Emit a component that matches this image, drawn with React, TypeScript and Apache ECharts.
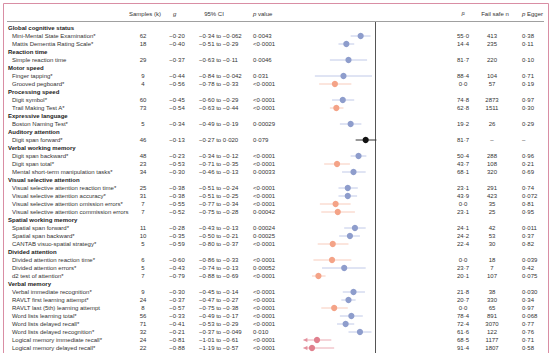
import React, { useEffect, useRef } from "react";
import * as echarts from "echarts";

const rowLabels: string[] = [
  "Global cognitive status",
  "Mini-Mental State Examination*",
  "Mattis Dementia Rating Scale*",
  "Reaction time",
  "Simple reaction time",
  "Motor speed",
  "Finger tapping*",
  "Grooved pegboard*",
  "Processing speed",
  "Digit symbol*",
  "Trail Making Test A*",
  "Expressive language",
  "Boston Naming Test*",
  "Auditory attention",
  "Digit span forward*",
  "Verbal working memory",
  "Digit span backward*",
  "Digit span total*",
  "Mental short-term manipulation tasks*",
  "Visual selective attention",
  "Visual selective attention reaction time*",
  "Visual selective attention accuracy*",
  "Visual selective attention omission errors*",
  "Visual selective attention commission errors",
  "Spatial working memory",
  "Spatial span forward*",
  "Spatial span backward*",
  "CANTAB visuo-spatial strategy*",
  "Divided attention",
  "Divided attention reaction time*",
  "Divided attention errors*",
  "d2 test of attention*",
  "Verbal memory",
  "Verbal immediate recognition*",
  "RAVLT first learning attempt*",
  "RAVLT last (5th) learning attempt",
  "Word lists learning total*",
  "Word lists delayed recall*",
  "Word lists delayed recognition*",
  "Logical memory immediate recall*",
  "Logical memory delayed recall*",
];

const N = null;
const samples: (number | null)[] = [N, 62, 18, N, 29, N, 9, 4, N, 60, 73, N, 5, N, 46, N, 48, 23, 34, N, 25, 31, 7, 7, N, 11, 10, 5, N, 6, 5, 7, N, 9, 24, 8, 56, 71, 32, 24, 22];
const gValues: (string | null)[] = [N, "-0.20", "-0.40", N, "-0.37", N, "-0.44", "-0.56", N, "-0.45", "-0.54", N, "-0.34", N, "-0.13", N, "-0.23", "-0.53", "-0.30", N, "-0.38", "-0.38", "-0.55", "-0.52", N, "-0.28", "-0.35", "-0.59", N, "-0.60", "-0.43", "-0.79", N, "-0.30", "-0.37", "-0.57", "-0.33", "-0.41", "-0.21", "-0.81", "-0.88"];
const ciLow: (string | null)[] = [N, "-0.34", "-0.51", N, "-0.63", N, "-0.84", "-0.78", N, "-0.60", "-0.63", N, "-0.49", N, "-0.27", N, "-0.34", "-0.71", "-0.46", N, "-0.51", "-0.51", "-0.77", "-0.75", N, "-0.43", "-0.50", "-0.80", N, "-0.86", "-0.74", "-0.88", N, "-0.45", "-0.47", "-0.75", "-0.49", "-0.53", "-0.37", "-1.01", "-1.19"];
const ciHigh: (string | null)[] = [N, "-0.062", "-0.29", N, "-0.11", N, "-0.042", "-0.33", N, "-0.29", "-0.44", N, "-0.19", N, "0.020", N, "-0.12", "-0.35", "-0.13", N, "-0.24", "-0.25", "-0.34", "-0.28", N, "-0.13", "-0.21", "-0.37", N, "-0.33", "-0.13", "-0.69", N, "-0.14", "-0.27", "-0.38", "-0.17", "-0.29", "-0.049", "-0.61", "-0.57"];
const pValues: (string | null)[] = [N, "0.0043", "<0.0001", N, "0.0046", N, "0.031", "<0.0001", N, "<0.0001", "<0.0001", N, "0.00029", N, "0.079", N, "<0.0001", "<0.0001", "0.00033", N, "<0.0001", "<0.0001", "<0.0001", "0.00042", N, "0.00024", "0.00025", "<0.0001", N, "<0.0001", "0.00052", "<0.0001", N, "<0.0001", "<0.0001", "<0.0001", "<0.0001", "<0.0001", "0.010", "<0.0001", "<0.0001"];
const i2Values: (string | null)[] = [N, "55.0", "14.4", N, "81.7", N, "88.4", "0.0", N, "74.8", "62.8", N, "19.2", N, "81.7", N, "50.4", "43.7", "68.1", N, "23.1", "43.9", "0.0", "23.1", N, "24.1", "24.2", "22.4", N, "0.0", "23.7", "20.1", N, "21.8", "20.7", "0.0", "78.4", "72.4", "61.6", "68.5", "91.4"];
const failSafe: (string | null)[] = [N, "413", "235", N, "220", N, "104", "57", N, "2873", "1511", N, "26", N, "–", N, "288", "108", "320", N, "291", "423", "35", "25", N, "42", "53", "30", N, "18", "7", "107", N, "38", "330", "65", "891", "3070", "122", "1177", "1807"];
const pEgger: (string | null)[] = [N, "0.38", "0.11", N, "0.10", N, "0.71", "0.19", N, "0.97", "0.30", N, "0.29", N, "–", N, "0.96", "0.21", "0.69", N, "0.74", "0.072", "0.81", "0.95", N, "0.011", "0.37", "0.82", N, "0.039", "0.42", "0.075", N, "0.030", "0.34", "0.97", "0.068", "0.77", "0.76", "0.71", "0.58"];

const headerLabels = ["Samples (k)", "g", "95% CI", "p value", "I²", "Fail safe n", "p Egger"];

const X_MIN = -1;
const X_MAX = 0.9;
const FONT = "'Liberation Sans', Arial, sans-serif";
const FS = 6;
const TXT = "#333";

const fmt = (s: string) => s.replace("-", "−").replace(".", "·");

function colorFor(g: number, hi: number) {
  if (hi > 0) return { pt: "#111111", line: "#333333" };
  if (g <= -0.8) return { pt: "#e0808e", line: "#ebaab3" };
  if (g <= -0.5) return { pt: "#f4a387", line: "#f8cbbb" };
  return { pt: "#8e9dcc", line: "#c0c9e8" };
}

export default function App() {
  const ref = useRef<HTMLDivElement>(null);
  useEffect(() => {
    if (!ref.current) return;
    const chart = echarts.init(ref.current, null, { renderer: "svg" });

    const forestData: number[][] = [];
    gValues.forEach((g, i) => {
      if (g !== null) forestData.push([parseFloat(g), parseFloat(ciLow[i] as string), parseFloat(ciHigh[i] as string), i]);
    });
    const textData = rowLabels.map((_, i) => [0, i]);

    const mkText = (text: string, x: number, y: number, align: string, bold = false) => ({
      type: "text",
      x,
      y,
      style: {
        text,
        fill: bold ? "#222" : TXT,
        fontSize: FS,
        fontFamily: FONT,
        fontWeight: bold ? "bold" : "normal",
        align,
        verticalAlign: "middle",
      },
    });

    const headerY = 14;
    const italicRich = {
      i: { fontStyle: "italic", fontSize: FS, fontFamily: FONT, fill: TXT },
      n: { fontSize: FS, fontFamily: FONT, fill: TXT },
    };
    const hText = (text: string, x: number, align: string) => ({
      type: "text",
      x,
      y: headerY,
      style: { text, rich: italicRich, fontSize: FS, fontFamily: FONT, fill: TXT, align, verticalAlign: "middle" },
    });

    chart.setOption({
      animation: false,
      backgroundColor: "#ffffff",
      grid: { left: 303.4, top: 24, width: 136, height: 328 },
      xAxis: { type: "value", min: X_MIN, max: X_MAX, show: false },
      yAxis: { type: "category", data: rowLabels, inverse: true, show: false },
      graphic: [
        { type: "rect", shape: { x: 3.5, y: 3.5, width: 545, height: 380 }, style: { fill: "none", stroke: "#d98ea4", lineWidth: 1 } },
        { type: "line", shape: { x1: 7, y1: 21.5, x2: 544, y2: 21.5 }, style: { stroke: "#888", lineWidth: 0.8 } },
        hText("{n|" + headerLabels[0] + "}", 145, "center"),
        hText("{i|" + headerLabels[1] + "}", 173, "left"),
        hText("{n|" + headerLabels[2] + "}", 214, "center"),
        hText("{i|p}{n| value}", 253, "left"),
        hText("{i|I}{n|²}", 463, "center"),
        hText("{n|" + headerLabels[5] + "}", 495, "center"),
        hText("{i|p}{n| Egger}", 522, "left"),
      ],
      series: [
        {
          type: "custom",
          name: "zero",
          data: [[0, 0]],
          encode: { x: 0, y: 1 },
          clip: false,
          silent: true,
          renderItem: (params: any, api: any) => {
            const cs = params.coordSys;
            const x = Math.round(api.coord([0, 0])[0]) + 0.5;
            return {
              type: "line",
              shape: { x1: x, y1: cs.y - 2, x2: x, y2: cs.y + cs.height + 2 },
              style: { stroke: "#555", lineWidth: 1 },
            };
          },
        },
        {
          type: "custom",
          name: "table",
          data: textData,
          encode: { x: 0, y: 1 },
          clip: false,
          silent: true,
          renderItem: (params: any, api: any) => {
            const i = params.dataIndex;
            const y = api.coord([0, i])[1];
            const g = gValues[i];
            if (g === null) {
              return { type: "group", children: [mkText(rowLabels[i], 8, y, "left", true)] };
            }
            const children: any[] = [
              mkText(rowLabels[i], 12, y, "left"),
              mkText(String(samples[i]), 143, y, "center"),
              mkText(fmt(g), 177, y, "center"),
              mkText(fmt(ciLow[i] as string) + " to " + fmt(ciHigh[i] as string), 199, y, "left"),
              mkText(fmt(pValues[i] as string), 253, y, "left"),
              mkText(fmt(i2Values[i] as string), 463, y, "center"),
              mkText(failSafe[i] as string, 492, y, "center"),
              mkText(fmt(pEgger[i] as string), 522, y, "left"),
            ];
            return { type: "group", children };
          },
        },
        {
          type: "custom",
          name: "forest",
          data: forestData,
          encode: { x: [0, 1, 2], y: 3 },
          clip: false,
          renderItem: (params: any, api: any) => {
            const g = api.value(0);
            const lo = api.value(1);
            const hi = api.value(2);
            const row = api.value(3);
            const c = colorFor(g, hi);
            const p = api.coord([g, row]);
            const a = api.coord([Math.max(lo, X_MIN), row]);
            const b = api.coord([hi, row]);
            const children: any[] = [
              { type: "line", shape: { x1: a[0], y1: a[1], x2: b[0], y2: b[1] }, style: { stroke: c.line, lineWidth: 1 } },
            ];
            if (lo < X_MIN) {
              children.push({
                type: "polygon",
                shape: { points: [[a[0], a[1]], [a[0] + 4, a[1] - 2.3], [a[0] + 4, a[1] + 2.3]] },
                style: { fill: c.pt, opacity: 0.8 },
              });
            }
            children.push({ type: "circle", shape: { cx: p[0], cy: p[1], r: 3.1 }, style: { fill: c.pt } });
            return { type: "group", children };
          },
        },
      ],
    });
    return () => chart.dispose();
  }, []);
  return <div ref={ref} style={{ width: 553, height: 353, position: "absolute", left: 0, top: 0 }} />;
}
